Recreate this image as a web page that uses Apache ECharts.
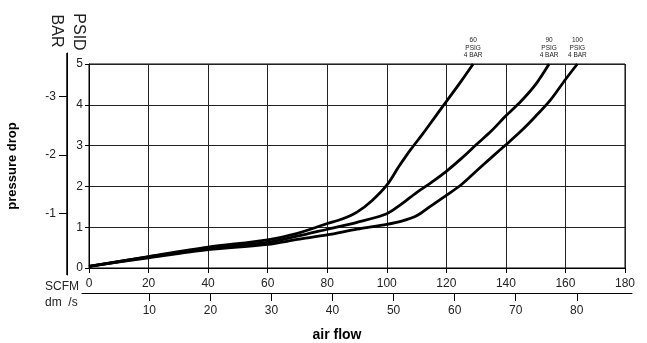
<!DOCTYPE html>
<html>
<head>
<meta charset="utf-8">
<script src="https://cdn.jsdelivr.net/npm/echarts@6/dist/echarts.min.js"></script>
<style>
html,body{margin:0;padding:0;background:#fff;}
#chart{width:647px;height:343px;}
</style>
</head>
<body>
<div id="chart"></div>
<script>
// ---- data ----
const scfmTicks = [0, 20, 40, 60, 80, 100, 120, 140, 160, 180];
const psidTicks = [0, 1, 2, 3, 4, 5];
const barTicks = [1, 2, 3];
const dm3Ticks = [10, 20, 30, 40, 50, 60, 70, 80];

const flow60 = [0, 20, 40, 60, 70, 80, 85, 90, 95, 100, 104, 108, 112, 116, 120, 125, 129];
const psid60 = [0.04, 0.28, 0.51, 0.69, 0.85, 1.09, 1.2, 1.37, 1.65, 2.03, 2.48, 2.9, 3.28, 3.68, 4.08, 4.58, 5];

const flow90 = [0, 20, 40, 60, 70, 80, 90, 100, 105, 110, 115, 120, 125, 130, 135, 140, 145, 150, 154.5];
const psid90 = [0.04, 0.27, 0.48, 0.63, 0.78, 0.95, 1.12, 1.33, 1.57, 1.85, 2.1, 2.37, 2.68, 3.02, 3.35, 3.73, 4.08, 4.5, 5];

const flow100 = [0, 20, 40, 60, 70, 80, 90, 100, 105, 110, 115, 120, 125, 130, 135, 140, 145, 150, 155, 160, 164];
const psid100 = [0.04, 0.25, 0.45, 0.58, 0.7, 0.81, 0.95, 1.07, 1.15, 1.28, 1.53, 1.78, 2.04, 2.37, 2.7, 3.02, 3.35, 3.72, 4.12, 4.62, 5];

const curveLabels = ['60\nPSIG\n4 BAR', '90\nPSIG\n4 BAR', '100\nPSIG\n4 BAR'];

// ---- build ----
const FONT = '"Liberation Sans", Arial, Helvetica, sans-serif';
function pairs(xs, ys) { return xs.map((x, i) => [x, ys[i]]); }

function curve(xs, ys, lbl) {
  const last = xs.length - 1;
  return {
    type: 'line', xAxisIndex: 0, yAxisIndex: 0,
    data: pairs(xs, ys),
    smooth: 0.3, symbol: 'none',
    lineStyle: { color: '#000', width: 2.8 },
    markPoint: {
      symbol: 'circle', symbolSize: 0, silent: true,
      data: [{ coord: [xs[last], ys[last]] }],
      label: {
        show: true, position: 'top', distance: 5,
        formatter: lbl,
        fontFamily: FONT, fontSize: 6.5, lineHeight: 7.5, color: '#222', align: 'center'
      }
    },
    z: 5
  };
}

const chart = echarts.init(document.getElementById('chart'), null, { renderer: 'canvas' });
chart.setOption({
  animation: false,
  backgroundColor: '#fff',
  grid: [
    { left: 89, right: 22, top: 64, bottom: 75, show: true, borderColor: '#000', borderWidth: 1, backgroundColor: 'transparent' },
    { left: 67, width: 0.01, top: 53, bottom: 68, show: true, borderColor: '#000', borderWidth: 1, backgroundColor: 'transparent' },
    { left: 82, right: 15, top: 280, bottom: 50, show: false }
  ],
  xAxis: [
    {
      type: 'value', gridIndex: 0, min: 0, max: 180, interval: 20,
      axisLine: { show: true, lineStyle: { color: '#000', width: 1 } },
      axisTick: { show: true, length: 5, lineStyle: { color: '#000' } },
      axisLabel: { margin: 10, fontFamily: FONT, fontSize: 12, color: '#222' },
      splitLine: { show: true, lineStyle: { color: '#222', width: 1 } }
    },
    { type: 'value', gridIndex: 1, min: 0, max: 1, axisLine: { show: false }, axisTick: { show: false }, axisLabel: { show: false }, splitLine: { show: false } },
    {
      type: 'value', gridIndex: 2, min: -1.03, max: 89.04, position: 'bottom',
      axisLine: { show: true, lineStyle: { color: '#000', width: 1 } },
      axisTick: { show: true, length: 8, customValues: dm3Ticks, lineStyle: { color: '#000' } },
      axisLabel: { margin: 12, customValues: dm3Ticks, fontFamily: FONT, fontSize: 12, color: '#222' },
      splitLine: { show: false }
    }
  ],
  yAxis: [
    {
      type: 'value', gridIndex: 0, min: 0, max: 5, interval: 1,
      axisLine: { show: true, lineStyle: { color: '#000', width: 1 } },
      axisTick: { show: true, length: 4, lineStyle: { color: '#000' } },
      axisLabel: { margin: 6, fontFamily: FONT, fontSize: 12, color: '#222' },
      splitLine: { show: true, lineStyle: { color: '#222', width: 1 } }
    },
    {
      type: 'value', gridIndex: 1, min: -0.058, max: 3.749, position: 'left',
      axisLine: { show: true, onZero: false, lineStyle: { color: '#000', width: 1 } },
      axisTick: { show: true, length: 8, customValues: barTicks, lineStyle: { color: '#000' } },
      axisLabel: { margin: 11, customValues: barTicks, formatter: v => '-' + v, fontFamily: FONT, fontSize: 12, color: '#222' },
      splitLine: { show: false }
    },
    { type: 'value', gridIndex: 2, min: 0, max: 1, axisLine: { show: false }, axisTick: { show: false }, axisLabel: { show: false }, splitLine: { show: false } }
  ],
  graphic: [
    { type: 'text', x: 78, y: 32, rotation: -Math.PI / 2,
      style: { text: 'PSID', font: '16px ' + FONT, fill: '#222', align: 'center', verticalAlign: 'middle', textAlign: 'center', textVerticalAlign: 'middle' } },
    { type: 'text', x: 56, y: 31, rotation: -Math.PI / 2,
      style: { text: 'BAR', font: '16px ' + FONT, fill: '#222', align: 'center', verticalAlign: 'middle', textAlign: 'center', textVerticalAlign: 'middle' } },
    { type: 'text', x: 12, y: 166, rotation: Math.PI / 2,
      style: { text: 'pressure drop', font: 'bold 13px ' + FONT, fill: '#000', align: 'center', verticalAlign: 'middle', textAlign: 'center', textVerticalAlign: 'middle' } },
    { type: 'text', x: 337, y: 335,
      style: { text: 'air flow', font: 'bold 14px ' + FONT, fill: '#000', align: 'center', verticalAlign: 'middle', textAlign: 'center', textVerticalAlign: 'middle' } },
    { type: 'text', x: 45, y: 287,
      style: { text: 'SCFM', font: '12px ' + FONT, fill: '#222', align: 'left', verticalAlign: 'middle', textAlign: 'left', textVerticalAlign: 'middle' } },
    { type: 'text', x: 45, y: 303,
      style: { text: 'dm  /s', font: '12px ' + FONT, fill: '#222', align: 'left', verticalAlign: 'middle', textAlign: 'left', textVerticalAlign: 'middle' } }
  ],
  series: [
    curve(flow60, psid60, curveLabels[0]),
    curve(flow90, psid90, curveLabels[1]),
    curve(flow100, psid100, curveLabels[2])
  ]
});
</script>
</body>
</html>
